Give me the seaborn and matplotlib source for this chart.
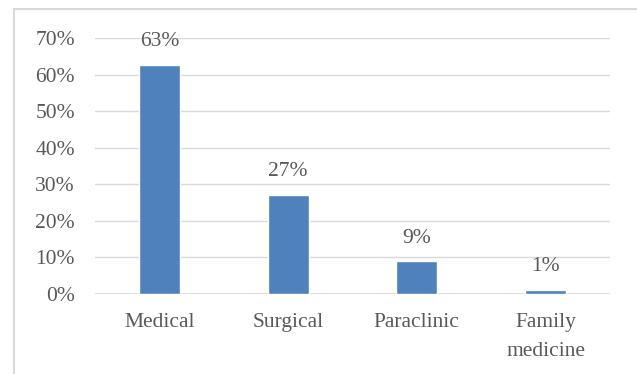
import matplotlib
matplotlib.use("Agg")
import matplotlib.pyplot as plt
from matplotlib.ticker import PercentFormatter, MultipleLocator
from matplotlib.lines import Line2D
import seaborn as sns
import pandas as pd

categories = ["Medical", "Surgical", "Paraclinic", "Family\nmedicine"]
values = [0.626, 0.271, 0.089, 0.012]
value_labels = ["63%", "27%", "9%", "1%"]

sns.set_style("white")
plt.rcParams['font.family'] = ['Liberation Serif', 'DejaVu Serif']

TEXT = "#595959"
GRID = "#D9D9D9"
FS = 15.5

fig = plt.figure(figsize=(6.37, 3.74), dpi=100)
ax = fig.add_axes([95/637, 1-294/374, (610-95)/637, (294-38)/374])

df = pd.DataFrame({"cat": categories, "val": values})
sns.barplot(data=df, x="cat", y="val", ax=ax, color="#4F81BD", saturation=1,
            width=0.32, zorder=3)

ax.set_xlim(-0.5, 3.5)
ax.set_ylim(0, 0.70)
ax.yaxis.set_major_locator(MultipleLocator(0.10))
ax.yaxis.set_major_formatter(PercentFormatter(1.0, decimals=0))
ax.grid(axis="y", color=GRID, linewidth=1.0, zorder=0)
ax.set_axisbelow(True)
for s in ax.spines.values():
    s.set_visible(False)
ax.axhline(0, color=GRID, linewidth=1.2, zorder=1)
ax.set_xlabel("")
ax.set_ylabel("")
ax.tick_params(axis="y", length=0, pad=14.5, labelsize=FS, labelcolor=TEXT)
ax.tick_params(axis="x", length=0, pad=14, labelsize=FS, labelcolor=TEXT)
for t in ax.get_xticklabels():
    t.set_linespacing(1.65)
    t.set_verticalalignment("top")

ax.bar_label(ax.containers[0], labels=value_labels, padding=10, fontsize=FS, color=TEXT)

# chart area border (top and left edges visible)
fig.add_artist(Line2D([14/637, 1], [1-9/374, 1-9/374], color="#D9D9D9", linewidth=1.5, transform=fig.transFigure))
fig.add_artist(Line2D([14/637, 14/637], [0, 1-9/374], color="#D9D9D9", linewidth=1.5, transform=fig.transFigure))

fig.savefig("out.png", dpi=100)
